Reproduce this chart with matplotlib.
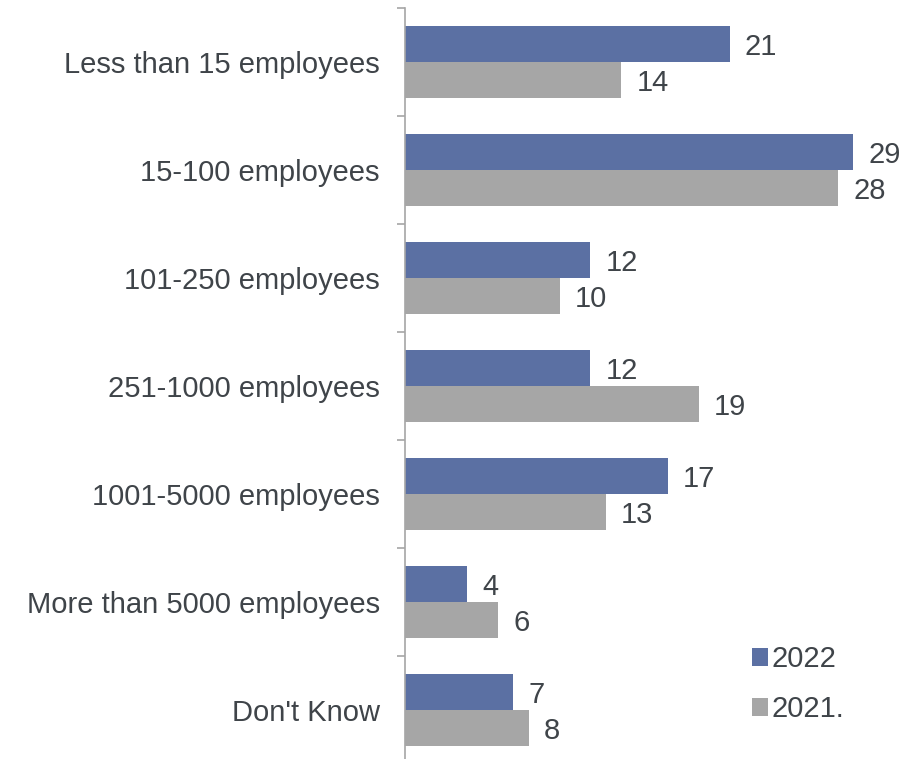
import numpy as np
import matplotlib
matplotlib.use('Agg')
from matplotlib import pyplot as plt
from matplotlib.patches import Patch

plt.rcParams['font.family'] = ['Liberation Sans', 'DejaVu Sans']

# Company size categories and survey shares for each year.
categories = ['Less than 15 employees', '15-100 employees', '101-250 employees',
              '251-1000 employees', '1001-5000 employees',
              'More than 5000 employees', "Don't Know"]
values_2022 = [21, 29, 12, 12, 17, 4, 7]
values_2021 = [14, 28, 10, 19, 13, 6, 8]
series_labels = ['2022', '2021.']

blue = '#5B70A3'
grey = '#A6A6A6'
text_color = '#3F4449'

W, H = 920, 759
fig = plt.figure(figsize=(W/100, H/100), dpi=100)
# Axes placed in pixel units: left edge at 405, category rows 108 px tall.
ax = fig.add_axes([405/W, (H - 764)/H, 510/W, 756/H])

y = np.arange(len(categories))
h = 1/3
ax.barh(y - h/2, values_2022, height=h, color=blue, edgecolor='none')
ax.barh(y + h/2, values_2021, height=h, color=grey, edgecolor='none')

for yi, v in zip(y, values_2022):
    ax.annotate(str(v), (v, yi - h/2), xytext=(11, -2.5), textcoords='offset points',
                va='center', ha='left', fontsize=21, color=text_color)
for yi, v in zip(y, values_2021):
    ax.annotate(str(v), (v, yi + h/2), xytext=(11, -2.5), textcoords='offset points',
                va='center', ha='left', fontsize=21, color=text_color)

ax.set_xlim(0, 33)
ax.set_ylim(len(categories) - 0.5, -0.5)

ax.set_yticks(y)
ax.set_yticklabels(categories, fontsize=21, color=text_color)
ax.tick_params(axis='y', which='major', length=0, pad=18)
ax.set_yticks(np.arange(len(categories) + 1) - 0.5, minor=True)
ax.tick_params(axis='y', which='minor', length=6, width=1.2, color='#A6A6A6')
ax.set_xticks([])

for s in ['top', 'right', 'bottom']:
    ax.spines[s].set_visible(False)
ax.spines['left'].set_color('#A6A6A6')
ax.spines['left'].set_linewidth(1.2)

handles = [Patch(facecolor=blue), Patch(facecolor=grey)]
leg = fig.legend(handles, series_labels, loc='upper left',
                 bbox_to_anchor=(726/W, 1 - 619/H), frameon=False,
                 fontsize=21, handlelength=0.55, handleheight=0.55,
                 handletextpad=0.1, labelspacing=0.75)
for t in leg.get_texts():
    t.set_color(text_color)

fig.savefig('out.png', dpi=100)
